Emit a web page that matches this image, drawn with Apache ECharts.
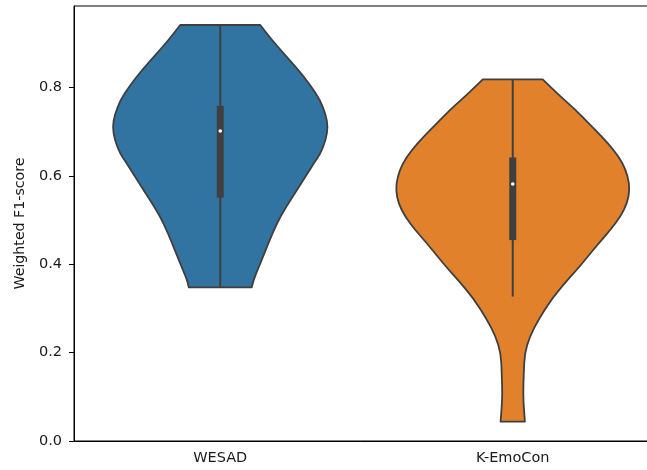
<!DOCTYPE html>
<html>
<head>
<meta charset="utf-8">
<script src="https://cdn.jsdelivr.net/npm/echarts@6/dist/echarts.min.js"></script>
<style>
  html, body { margin: 0; padding: 0; background: #ffffff; }
  #chart { width: 647px; height: 470px; }
</style>
</head>
<body>
<div id="chart"></div>
<script>
// Datasets on the x axis
const categories = ['WESAD', 'K-EmoCon'];

// Kernel density outline of each dataset: score values (top to bottom)
// and the relative density at each value (1 = widest violin)
const wesadScores = [0.942, 0.908, 0.874, 0.840, 0.806, 0.772, 0.738, 0.712, 0.682, 0.651,
  0.636, 0.605, 0.568, 0.527, 0.493, 0.448, 0.402, 0.365, 0.348];
const wesadDensity = [0.342, 0.441, 0.555, 0.669, 0.769, 0.854, 0.903, 0.920, 0.903, 0.856,
  0.818, 0.743, 0.655, 0.555, 0.484, 0.412, 0.342, 0.284, 0.269];

const kemoconScores = [0.819, 0.802, 0.780, 0.750, 0.719, 0.689, 0.659, 0.629, 0.599, 0.568,
  0.538, 0.508, 0.478, 0.448, 0.417, 0.387, 0.365, 0.323, 0.274, 0.236,
  0.199, 0.153, 0.108, 0.078, 0.044];
const kemoconDensity = [0.256, 0.322, 0.408, 0.536, 0.650, 0.763, 0.863, 0.940, 0.985, 1.000,
  0.977, 0.920, 0.835, 0.735, 0.640, 0.545, 0.470, 0.335, 0.218, 0.145,
  0.102, 0.094, 0.089, 0.094, 0.104];

// Box-plot summary drawn inside each violin
const quartile1 = [0.551, 0.455];
const medians = [0.702, 0.582];
const quartile3 = [0.759, 0.642];
const whiskerLow = [0.348, 0.327];
const whiskerHigh = [0.942, 0.819];

// Y axis ticks
const yTicks = [0, 0.2, 0.4, 0.6, 0.8];

const scoreSets = [wesadScores, kemoconScores];
const densitySets = [wesadDensity, kemoconDensity];
const fillColors = ['#3274a1', '#e1812c'];
const edgeColor = '#3f3f3f';
const textColor = '#1a1a1a';
const fontFamily = '"DejaVu Sans", sans-serif';

// Smooth open curve through a list of points (quadratic segments between midpoints)
function smoothSegment(pts, startWithMove) {
  let d = (startWithMove ? 'M' : 'L') + pts[0][0].toFixed(2) + ',' + pts[0][1].toFixed(2);
  for (let i = 1; i < pts.length - 1; i++) {
    const mx = (pts[i][0] + pts[i + 1][0]) / 2;
    const my = (pts[i][1] + pts[i + 1][1]) / 2;
    d += 'Q' + pts[i][0].toFixed(2) + ',' + pts[i][1].toFixed(2) + ' ' + mx.toFixed(2) + ',' + my.toFixed(2);
  }
  const last = pts[pts.length - 1];
  d += 'L' + last[0].toFixed(2) + ',' + last[1].toFixed(2);
  return d;
}

function renderViolin(params, api) {
  const idx = api.value(0);
  const scores = scoreSets[idx];
  const dens = densitySets[idx];
  const band = api.size([1, 0])[0];
  const halfMax = band * 0.4;
  const cx = api.coord([idx, 0])[0];

  const left = [], right = [];
  for (let i = 0; i < scores.length; i++) {
    const y = api.coord([idx, scores[i]])[1];
    const w = dens[i] * halfMax;
    left.push([cx - w, y]);
    right.push([cx + w, y]);
  }
  right.reverse();
  const pathData = smoothSegment(left, true) + smoothSegment(right, false) + 'Z';

  const yQ1 = api.coord([idx, quartile1[idx]])[1];
  const yQ3 = api.coord([idx, quartile3[idx]])[1];
  const yMed = api.coord([idx, medians[idx]])[1];
  const yLo = api.coord([idx, whiskerLow[idx]])[1];
  const yHi = api.coord([idx, whiskerHigh[idx]])[1];
  const boxW = 7;

  return {
    type: 'group',
    children: [
      {
        type: 'path',
        shape: { pathData: pathData },
        style: { fill: fillColors[idx], stroke: edgeColor, lineWidth: 1.8, lineJoin: 'round' }
      },
      {
        type: 'line',
        shape: { x1: cx, y1: yLo, x2: cx, y2: yHi },
        style: { stroke: edgeColor, lineWidth: 2 }
      },
      {
        type: 'rect',
        shape: { x: cx - boxW / 2, y: yQ3, width: boxW, height: yQ1 - yQ3 },
        style: { fill: edgeColor }
      },
      {
        type: 'circle',
        shape: { cx: cx, cy: yMed, r: 1.8 },
        style: { fill: '#ffffff' }
      }
    ]
  };
}

const chart = echarts.init(document.getElementById('chart'), null, { renderer: 'canvas' });

chart.setOption({
  animation: false,
  backgroundColor: '#ffffff',
  grid: {
    left: 74, top: 6, bottom: 29, width: 585,
    outerBoundsMode: 'none',
    containLabel: false,
    show: true, borderColor: '#000000', borderWidth: 1, backgroundColor: 'transparent'
  },
  xAxis: {
    type: 'category',
    data: categories,
    boundaryGap: true,
    axisLine: { lineStyle: { color: '#000000', width: 1 } },
    axisTick: { alignWithLabel: true, length: 5, lineStyle: { color: '#000000' } },
    axisLabel: { margin: 10, fontSize: 14.5, color: textColor, fontFamily: fontFamily },
    splitLine: { show: false }
  },
  yAxis: {
    type: 'value',
    min: 0,
    max: 0.985,
    name: 'Weighted F1-score',
    nameLocation: 'middle',
    nameGap: 47,
    nameTextStyle: { fontSize: 14.2, color: textColor, fontFamily: fontFamily },
    axisLine: { show: true, lineStyle: { color: '#000000', width: 1 } },
    axisTick: { show: true, length: 5, customValues: yTicks, lineStyle: { color: '#000000' } },
    axisLabel: {
      margin: 12, fontSize: 14.5, color: textColor, fontFamily: fontFamily,
      customValues: yTicks,
      formatter: v => v.toFixed(1)
    },
    splitLine: { show: false }
  },
  series: [{
    type: 'custom',
    renderItem: renderViolin,
    data: categories.map((c, i) => [i]),
    encode: { x: 0 },
    clip: false,
    silent: true
  }]
});
</script>
</body>
</html>
